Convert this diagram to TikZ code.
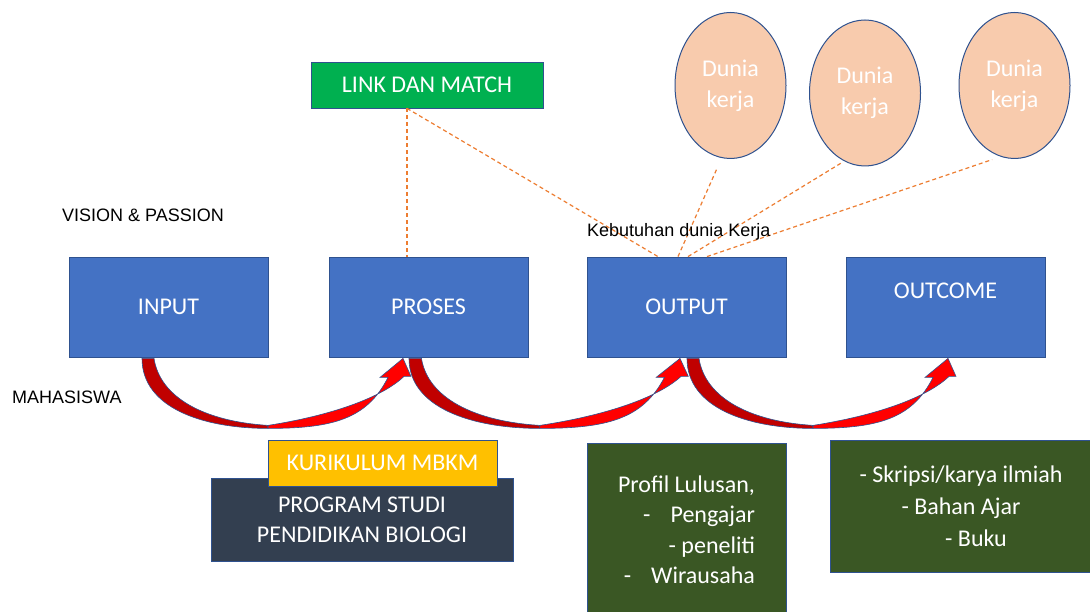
\documentclass[tikz,border=0pt]{standalone}
\usepackage{fontspec}
\usepackage{tikz}
\usetikzlibrary{shapes.geometric,calc}
\setmainfont{Carlito}
\newfontfamily\arl{Liberation Sans}

\definecolor{biru}{HTML}{4472C4}
\definecolor{birutua}{HTML}{2F528F}
\definecolor{hijau}{HTML}{00B050}
\definecolor{kuning}{HTML}{FFC000}
\definecolor{abu}{HTML}{333F50}
\definecolor{hijautua}{HTML}{3A5724}
\definecolor{peach}{HTML}{F8CBAD}
\definecolor{oranye}{HTML}{ED7D31}
\definecolor{merah}{HTML}{FF0000}
\definecolor{merahtua}{HTML}{C00000}

\tikzset{
    kotak/.style={draw=birutua, line width=0.8pt, text=white, inner sep=0pt,
                  font=\fontsize{24}{30}\selectfont},
    blok/.style={kotak, fill=biru, minimum width=199pt, minimum height=100pt},
    elips/.style={ellipse, draw=birutua, line width=1pt, fill=peach, text=white,
                  inner sep=0pt, align=center, minimum width=111pt, minimum height=146pt,
                  font=\fontsize{24}{31}\selectfont},
    garis/.style={draw=oranye, line width=1.2pt, dash pattern=on 4pt off 3pt},
    teks/.style={font=\arl\fontsize{18}{22}\selectfont, inner sep=0pt, anchor=west},
    pita/.style={draw=birutua, line width=0.6pt},
}

\begin{document}
\begin{tikzpicture}[x=1pt, y=-1pt]
    \useasboundingbox[fill=white] (0,0) rectangle (1090,612);

    % Main boxes
    \node[blok] (inp) at (168.5,307) {INPUT};
    \node[blok] (pro) at (428.5,307) {PROSES};
    \node[blok] (out) at (686.5,307) {OUTPUT};
    \node[blok] (oc) at (945.5,307) {\raisebox{32pt}{OUTCOME}};

    % Top boxes
    \node[kotak, fill=hijau, minimum width=232pt, minimum height=46pt] (link) at (427,85) {LINK DAN MATCH};
    \node[elips] (e1) at (730.5,85.5) {Dunia\\kerja};
    \node[elips] (e2) at (865,93) {Dunia\\kerja};
    \node[elips] (e3) at (1014.5,85.5) {Dunia\\kerja};

    % Bottom boxes
    \node[kotak, fill=abu, minimum width=302pt, minimum height=83pt, align=center] (prodi) at (362,519.5) {PROGRAM STUDI\\PENDIDIKAN BIOLOGI};
    \node[kotak, fill=kuning, minimum width=229pt, minimum height=46pt] (kur) at (382.5,463) {KURIKULUM MBKM};
    \node[kotak, fill=hijautua, minimum width=199pt, minimum height=174pt,
          align=right, font=\fontsize{24}{30.5}\selectfont] (profil) at (686.5,530)
          {Profil Lulusan,\\-\hspace{20pt}Pengajar\\- peneliti\\-\hspace{20pt}Wirausaha};
    \node[kotak, fill=hijautua, minimum width=262pt, minimum height=132pt, align=center,
          font=\fontsize{24}{32}\selectfont] (hasil) at (961,506)
          {- Skripsi/karya ilmiah\\- Bahan Ajar\\\hspace*{30pt}- Buku};

    % Dashed links
    \coordinate (lk) at ([xshift=-20pt]link.south);
    \draw[garis] (lk) -- (lk |- pro.north);
    \draw[garis] (lk) -- ([xshift=-28.5pt]out.north);
    \draw[garis, shorten >=10pt] ([xshift=-8.5pt]out.north) -- (e1.263);
    \draw[garis, shorten >=4pt] ([xshift=1.5pt]out.north) -- (e2.253);
    \draw[garis, shorten >=9pt] ([xshift=20.5pt]out.north) -- (e3.259);

    % Labels
    \node[teks] (vis) at (62,215) {VISION \& PASSION};
    \node[teks] (mhs) at (12,397) {MAHASISWA};
    \node[teks] (kbt) at (587,232) {Kebutuhan dunia Kerja};

    % Curved arrows
    \foreach \a/\t/\w in {inp/-26.5/261, pro/-19.5/271, out/0.5/261}{
        \begin{scope}[shift={($(\a.south)+(\t,0)$)}, xscale=\w/261]
            \filldraw[pita, fill=merahtua] (0,1) .. controls (0,50) and (60,71) .. (126,71)
                -- (126,68) .. controls (62,64) and (18,40) .. (12,1) -- cycle;
            \filldraw[pita, fill=merah] (126,71) .. controls (190,71) and (225,62) .. (246,20)
                -- (238,20) -- (261,1) -- (269,19) -- (262,19)
                .. controls (240,40) and (190,58) .. (126,68) -- cycle;
        \end{scope}
    }
\end{tikzpicture}
\end{document}
